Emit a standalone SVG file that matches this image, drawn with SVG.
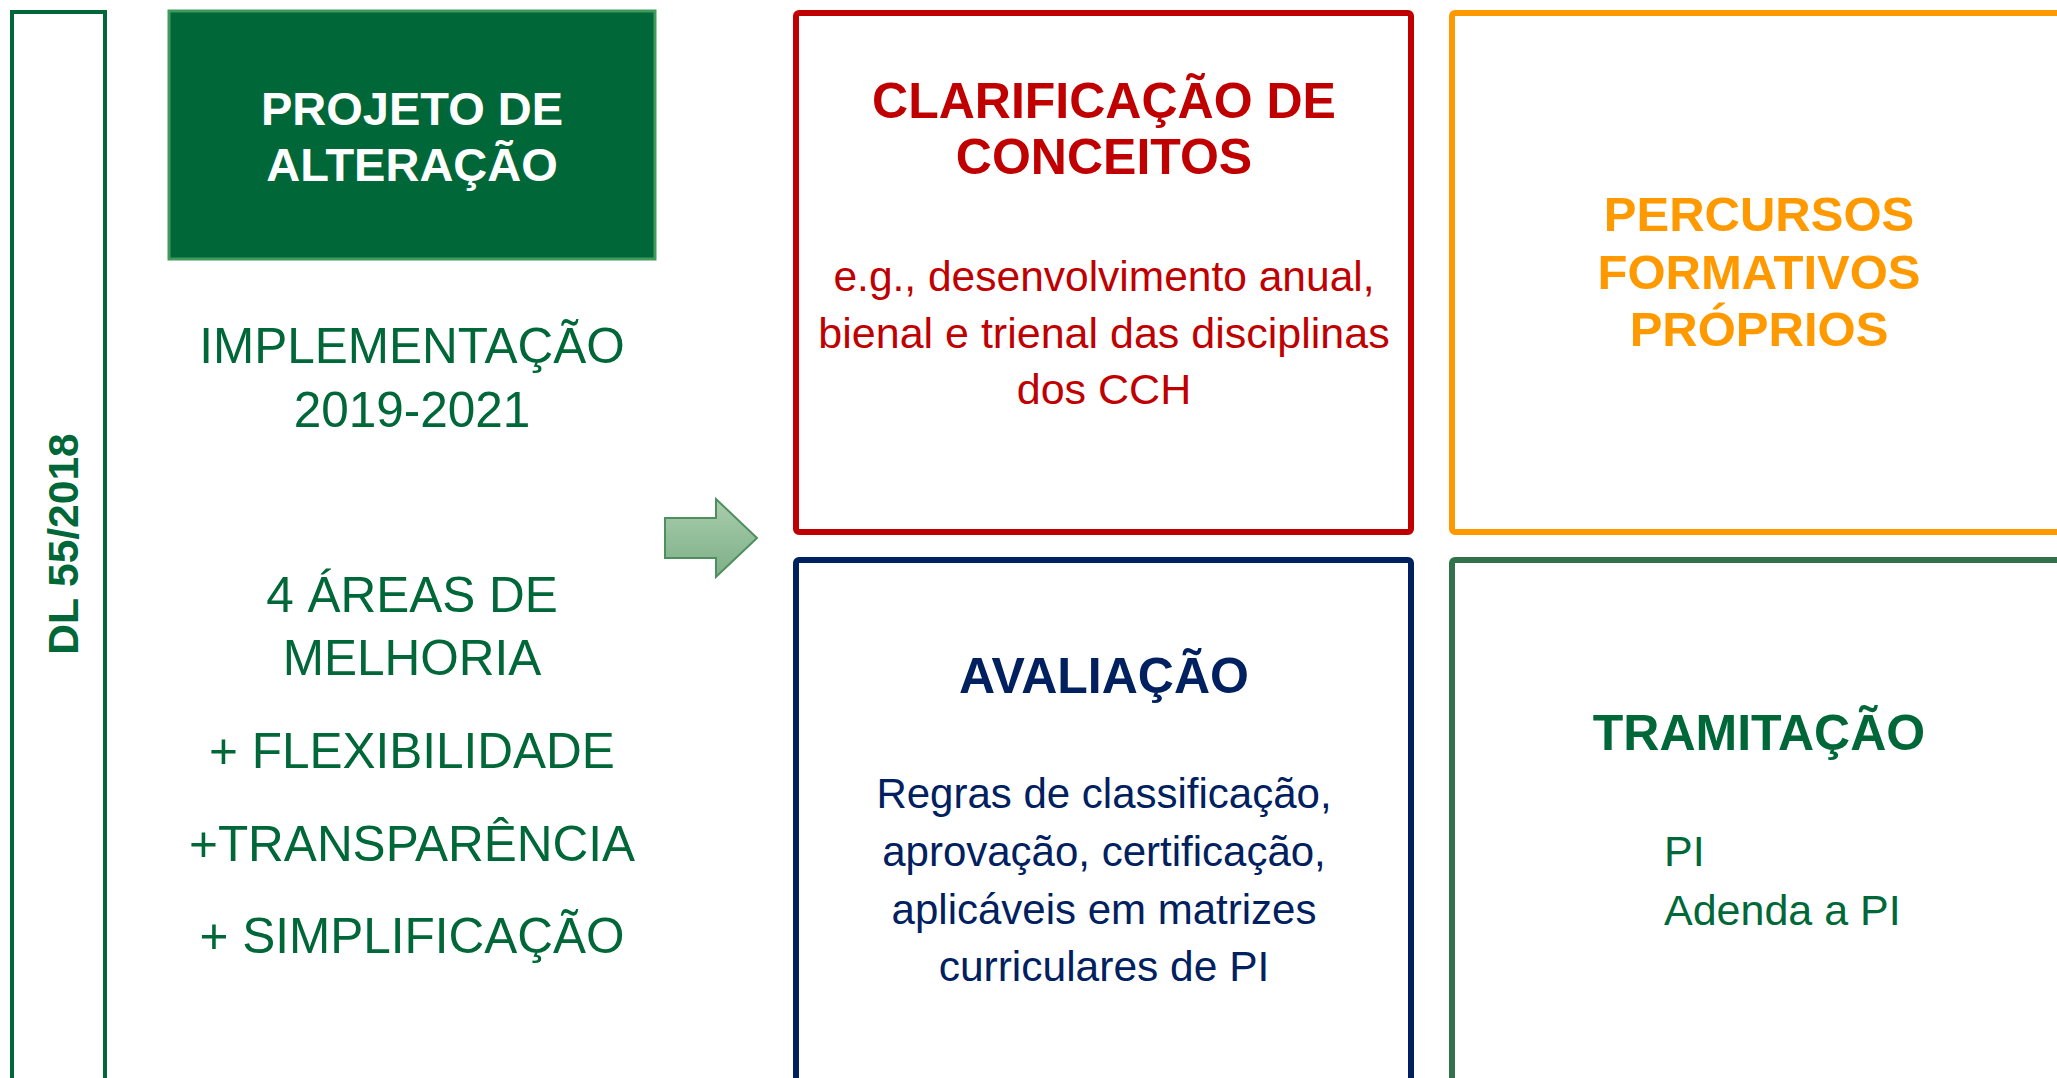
<svg xmlns="http://www.w3.org/2000/svg" width="2057" height="1078" viewBox="0 0 2057 1078">
<style>
text{font-family:"Liberation Sans",Arial,sans-serif}
.b{font-weight:bold}
.mid{text-anchor:middle}
.grn{fill:#006838}
.red{fill:#C00000}
.org{fill:#FF9900}
.nav{fill:#002060}
.box{fill:#FFFFFF;stroke-width:6}
</style>
<defs>
<linearGradient id="ag" x1="0" y1="0" x2="0" y2="1">
<stop offset="0" stop-color="#A9CDAE"/>
<stop offset="1" stop-color="#7DAF86"/>
</linearGradient>
</defs>
<rect width="2057" height="1078" fill="#FFFFFF"/>

<g id="dl">
<rect x="12" y="12" width="93" height="1100" fill="none" stroke="#006838" stroke-width="4"/>
<text class="b grn mid" font-size="42.5" transform="translate(78,544) rotate(-90)">DL 55/2018</text>
</g>

<g id="projeto">
<rect x="169" y="11" width="486" height="248" fill="#006838" stroke="#3F9A5C" stroke-width="3"/>
<text class="b mid" fill="#FFFFFF" font-size="47" x="412" y="125">PROJETO DE</text>
<text class="b mid" fill="#FFFFFF" font-size="47" x="412" y="181">ALTERAÇÃO</text>
</g>

<g id="left-text" class="grn">
<text class="mid" font-size="49.5" x="412" y="363">IMPLEMENTAÇÃO</text>
<text class="mid" font-size="49.5" x="412" y="427">2019-2021</text>
<text class="mid" font-size="49.5" x="412" y="612">4 ÁREAS DE</text>
<text class="mid" font-size="49.5" x="412" y="675">MELHORIA</text>
<text class="mid" font-size="49.5" x="412" y="768">+ FLEXIBILIDADE</text>
<text class="mid" font-size="49.5" x="412" y="861">+TRANSPARÊNCIA</text>
<text class="mid" font-size="49.5" x="412" y="953">+ SIMPLIFICAÇÃO</text>
</g>

<g id="connectors">
<path d="M665,518 H716 V499 L757,538 L716,577 V558 H665 Z" fill="url(#ag)" stroke="#4E8F5E" stroke-width="2"/>
</g>

<g id="clarificacao">
<rect class="box" x="796" y="13" width="615" height="519" rx="3" stroke="#C00000"/>
<text class="b red mid" font-size="50" x="1104" y="118">CLARIFICAÇÃO DE</text>
<text class="b red mid" font-size="50" x="1104" y="174">CONCEITOS</text>
<text class="red mid" font-size="42.5" x="1104" y="291">e.g., desenvolvimento anual,</text>
<text class="red mid" font-size="43" x="1104" y="348">bienal e trienal das disciplinas</text>
<text class="red mid" font-size="43" x="1104" y="404">dos CCH</text>
</g>

<g id="percursos">
<rect class="box" x="1452" y="13" width="700" height="519" rx="3" stroke="#FF9900"/>
<text class="b org mid" font-size="49" x="1759" y="231">PERCURSOS</text>
<text class="b org mid" font-size="49" x="1759" y="289">FORMATIVOS</text>
<text class="b org mid" font-size="49" x="1759" y="346">PRÓPRIOS</text>
</g>

<g id="avaliacao">
<rect class="box" x="796" y="560" width="615" height="600" rx="3" stroke="#002060"/>
<text class="b nav mid" font-size="50" x="1104" y="693">AVALIAÇÃO</text>
<text class="nav mid" font-size="42" x="1104" y="808">Regras de classificação,</text>
<text class="nav mid" font-size="42" x="1104" y="866">aprovação, certificação,</text>
<text class="nav mid" font-size="42" x="1104" y="924">aplicáveis em matrizes</text>
<text class="nav mid" font-size="42.5" x="1104" y="981">curriculares de PI</text>
</g>

<g id="tramitacao">
<rect class="box" x="1452" y="560" width="700" height="600" rx="3" stroke="#31724A"/>
<text class="b grn mid" font-size="50" x="1759" y="750">TRAMITAÇÃO</text>
<text class="grn" font-size="43" x="1664" y="866">PI</text>
<text class="grn" font-size="43" x="1664" y="925">Adenda a PI</text>
</g>
</svg>
